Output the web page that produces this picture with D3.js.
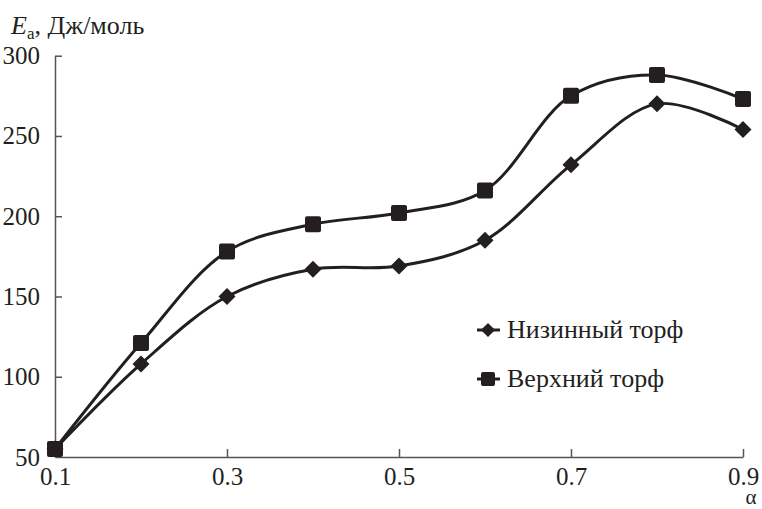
<!DOCTYPE html>
<html><head><meta charset="utf-8">
<script src="https://cdn.jsdelivr.net/npm/d3@7"></script>
<style>
html,body{margin:0;padding:0;background:#fff;}
</style></head>
<body><svg id="c" width="762" height="509"></svg>
<script>
const alpha = [0.1,0.2,0.3,0.4,0.5,0.6,0.7,0.8,0.9];
const lowland = [55,108,150,167,169,185,232,270,254];
const upper = [55,121,178,195,202,216,275,288,273];
const xTicks = [0.1,0.3,0.5,0.7,0.9];
const yTicks = [50,100,150,200,250,300];
const seriesNames = ["Низинный торф","Верхний торф"];

const FONT = "Liberation Serif";
const ink = "#231f20";
const svg = d3.select("#c");
const x = d3.scaleLinear().domain([0.1,0.9]).range([55,743]);
const y = d3.scaleLinear().domain([50,300]).range([457,55.7]);

// axes
const xAxis = svg.append("g").attr("transform","translate(0,"+y(50)+")")
  .call(d3.axisBottom(x).tickValues(xTicks).tickSizeInner(-8).tickSizeOuter(0).tickPadding(17).tickFormat(d3.format(".1f")));
const yAxis = svg.append("g").attr("transform","translate("+x(0.1)+",0)")
  .call(d3.axisLeft(y).tickValues(yTicks).tickSizeInner(-7).tickSizeOuter(0).tickPadding(15).tickFormat(d3.format("d")));
[xAxis,yAxis].forEach(a=>{
  a.attr("font-family",FONT).attr("font-size",25);
  a.select(".domain").attr("stroke","#555").attr("stroke-width",1.5);
  a.selectAll(".tick line").attr("stroke","#555").attr("stroke-width",1.5);
  a.selectAll("text").attr("font-family",FONT).attr("font-size",25).attr("fill",ink);
});
yAxis.selectAll(".tick").filter(d=>d===50).select("line").remove();
xAxis.selectAll(".tick").filter(d=>d===0.1).select("line").remove();
xAxis.selectAll("text").attr("dy","0.71em").attr("y",10);

// titles
const t = svg.append("text").attr("x",11).attr("y",34).attr("font-family",FONT).attr("font-size",26).attr("fill",ink);
t.append("tspan").attr("font-style","italic").text("E");
t.append("tspan").attr("font-size",17).attr("dy",5).text("a");
t.append("tspan").attr("dy",-5).text(", Дж/моль");
svg.append("text").attr("x",751).attr("y",504).attr("text-anchor","middle").attr("font-family",FONT).attr("font-size",21).attr("fill",ink).text("α");

const line = d3.line().x((d,i)=>x(alpha[i])).y(d=>y(d)).curve(d3.curveCatmullRom.alpha(0.5));
[lowland,upper].forEach(s=>{
  svg.append("path").attr("d",line(s)).attr("fill","none").attr("stroke",ink).attr("stroke-width",3);
});
// diamonds
svg.append("g").selectAll("path").data(lowland).join("path")
  .attr("d",d3.symbol().type(d3.symbolSquare).size(12*12)())
  .attr("transform",(d,i)=>"translate("+x(alpha[i])+","+y(d)+") rotate(45)")
  .attr("fill",ink);
svg.append("g").selectAll("rect").data(upper).join("rect")
  .attr("x",(d,i)=>x(alpha[i])-8).attr("y",d=>y(d)-8).attr("width",16).attr("height",16).attr("rx",2)
  .attr("fill",ink);

// legend
const lg = svg.append("g");
[0,1].forEach(k=>{
  const cy = k===0?330:379;
  lg.append("line").attr("x1",477).attr("x2",500).attr("y1",cy).attr("y2",cy).attr("stroke",ink).attr("stroke-width",3);
  if(k===0){
    lg.append("path").attr("d",d3.symbol().type(d3.symbolSquare).size(10*10)()).attr("transform","translate(488,"+cy+") rotate(45)").attr("fill",ink);
  } else {
    lg.append("rect").attr("x",481).attr("y",cy-7).attr("width",14).attr("height",14).attr("rx",2).attr("fill",ink);
  }
  lg.append("text").attr("x",507).attr("y",cy+8).attr("font-family",FONT).attr("font-size",26).attr("fill",ink).text(seriesNames[k]);
});
</script></body></html>
